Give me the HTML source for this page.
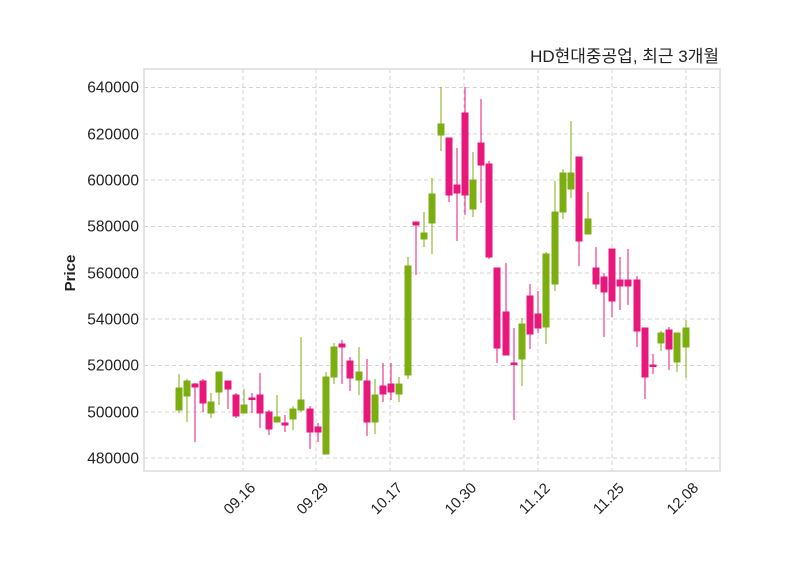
<!DOCTYPE html>
<html><head><meta charset="utf-8"><style>
body{margin:0;background:#fff;}
svg text{font-family:"Liberation Sans","Noto Sans CJK KR",sans-serif;fill:#222;}
</style></head><body>
<svg width="800" height="575" viewBox="0 0 800 575" xmlns="http://www.w3.org/2000/svg">
<rect width="800" height="575" fill="#fff"/>
<g stroke="#d3d3d3" stroke-width="1" stroke-dasharray="4,3">
<line x1="144" x2="720" y1="87.5" y2="87.5"/><line x1="144" x2="720" y1="134" y2="134"/><line x1="144" x2="720" y1="180" y2="180"/><line x1="144" x2="720" y1="226.5" y2="226.5"/><line x1="144" x2="720" y1="273" y2="273"/><line x1="144" x2="720" y1="319" y2="319"/><line x1="144" x2="720" y1="365.5" y2="365.5"/><line x1="144" x2="720" y1="412" y2="412"/><line x1="144" x2="720" y1="458" y2="458"/>
<line y1="69" y2="471" x1="243" x2="243"/><line y1="69" y2="471" x1="316" x2="316"/><line y1="69" y2="471" x1="390" x2="390"/><line y1="69" y2="471" x1="464" x2="464"/><line y1="69" y2="471" x1="538" x2="538"/><line y1="69" y2="471" x1="612" x2="612"/><line y1="69" y2="471" x1="686" x2="686"/>
</g>
<rect x="144" y="69" width="576" height="402" fill="none" stroke="#dcdcdc" stroke-width="1.5"/>
<g font-size="15.5" text-anchor="end">
<text x="139" y="92.5">640000</text><text x="139" y="139.5">620000</text><text x="139" y="185.5">600000</text><text x="139" y="231.5">580000</text><text x="139" y="278.5">560000</text><text x="139" y="324.5">540000</text><text x="139" y="370.5">520000</text><text x="139" y="417.5">500000</text><text x="139" y="463.5">480000</text>
</g>
<g font-size="15" text-anchor="middle">
<text transform="translate(243,502) rotate(-45)">09.16</text>
<text transform="translate(316,502) rotate(-45)">09.29</text>
<text transform="translate(390,502) rotate(-45)">10.17</text>
<text transform="translate(464,502) rotate(-45)">10.30</text>
<text transform="translate(538,502) rotate(-45)">11.12</text>
<text transform="translate(612,502) rotate(-45)">11.25</text>
<text transform="translate(686,502) rotate(-45)">12.08</text>
</g>
<text transform="translate(75,273) rotate(-90)" font-size="15" font-weight="bold" text-anchor="middle">Price</text>
<text x="719" y="62" font-size="17" text-anchor="end">HD현대중공업, 최근 3개월</text>
<g stroke="#7cae12" fill="#7cae12" stroke-width="1">
<line x1="179" x2="179" y1="374" y2="413"/><rect x="176" y="388" width="6" height="22"/>
<line x1="187" x2="187" y1="379" y2="422"/><rect x="184" y="381" width="6" height="15"/>
<line x1="211" x2="211" y1="393" y2="418"/><rect x="208" y="402" width="6" height="11"/>
<line x1="219" x2="219" y1="372" y2="405"/><rect x="216" y="372" width="6" height="20"/>
<line x1="244" x2="244" y1="389" y2="413"/><rect x="241" y="405" width="6" height="8"/>
<line x1="277" x2="277" y1="395" y2="422"/><rect x="274" y="417" width="6" height="5"/>
<line x1="293" x2="293" y1="406" y2="430"/><rect x="290" y="409" width="6" height="10"/>
<line x1="301" x2="301" y1="337" y2="412"/><rect x="298" y="400" width="6" height="10"/>
<line x1="326" x2="326" y1="372" y2="454"/><rect x="323" y="377" width="6" height="77"/>
<line x1="334" x2="334" y1="343" y2="384"/><rect x="331" y="347" width="6" height="30"/>
<line x1="359" x2="359" y1="347" y2="395"/><rect x="356" y="372" width="6" height="8"/>
<line x1="375" x2="375" y1="379" y2="434"/><rect x="372" y="395" width="6" height="27"/>
<line x1="399" x2="399" y1="377" y2="402"/><rect x="396" y="384" width="6" height="10"/>
<line x1="408" x2="408" y1="257" y2="379"/><rect x="405" y="266" width="6" height="109"/>
<line x1="424" x2="424" y1="212" y2="247"/><rect x="421" y="233" width="6" height="6"/>
<line x1="432" x2="432" y1="178" y2="254"/><rect x="429" y="194" width="6" height="29"/>
<line x1="441" x2="441" y1="87" y2="151"/><rect x="438" y="124" width="6" height="11"/>
<line x1="473" x2="473" y1="152" y2="217"/><rect x="470" y="180" width="6" height="29"/>
<line x1="522" x2="522" y1="318" y2="386"/><rect x="519" y="324" width="6" height="35"/>
<line x1="546" x2="546" y1="252" y2="344"/><rect x="543" y="254" width="6" height="73"/>
<line x1="555" x2="555" y1="181" y2="291"/><rect x="552" y="212" width="6" height="72"/>
<line x1="563" x2="563" y1="169" y2="219"/><rect x="560" y="173" width="6" height="39"/>
<line x1="571" x2="571" y1="121" y2="198"/><rect x="568" y="173" width="6" height="16"/>
<line x1="588" x2="588" y1="192" y2="234"/><rect x="585" y="219" width="6" height="15"/>
<line x1="661" x2="661" y1="331" y2="351"/><rect x="658" y="333" width="6" height="10"/>
<line x1="677" x2="677" y1="333" y2="372"/><rect x="674" y="333" width="6" height="29"/>
<line x1="686" x2="686" y1="320" y2="378"/><rect x="683" y="328" width="6" height="19"/>
</g>
<g stroke="#e8177c" fill="#e8177c" stroke-width="1">
<line x1="195" x2="195" y1="383" y2="442"/><rect x="192" y="384" width="6" height="3"/>
<line x1="203" x2="203" y1="379" y2="412"/><rect x="200" y="381" width="6" height="22"/>
<line x1="228" x2="228" y1="381" y2="409"/><rect x="225" y="381" width="6" height="8"/>
<line x1="236" x2="236" y1="393" y2="418"/><rect x="233" y="395" width="6" height="21"/>
<line x1="252" x2="252" y1="393" y2="413"/><rect x="249" y="398" width="6" height="1.5"/>
<line x1="260" x2="260" y1="373" y2="428"/><rect x="257" y="395" width="6" height="18"/>
<line x1="269" x2="269" y1="410" y2="435"/><rect x="266" y="412" width="6" height="17"/>
<line x1="285" x2="285" y1="415" y2="432"/><rect x="282" y="423" width="6" height="2"/>
<line x1="310" x2="310" y1="406" y2="449"/><rect x="307" y="409" width="6" height="23"/>
<line x1="318" x2="318" y1="423" y2="442"/><rect x="315" y="427" width="6" height="5"/>
<line x1="342" x2="342" y1="340" y2="384"/><rect x="339" y="344" width="6" height="3"/>
<line x1="350" x2="350" y1="357" y2="391"/><rect x="347" y="361" width="6" height="17"/>
<line x1="367" x2="367" y1="359" y2="436"/><rect x="364" y="381" width="6" height="41"/>
<line x1="383" x2="383" y1="363" y2="402"/><rect x="380" y="386" width="6" height="8"/>
<line x1="391" x2="391" y1="363" y2="400"/><rect x="388" y="384" width="6" height="8"/>
<line x1="416" x2="416" y1="223" y2="275"/><rect x="413" y="222" width="6" height="3"/>
<line x1="449" x2="449" y1="138" y2="202"/><rect x="446" y="138" width="6" height="57"/>
<line x1="457" x2="457" y1="148" y2="241"/><rect x="454" y="185" width="6" height="8"/>
<line x1="465" x2="465" y1="87" y2="215"/><rect x="462" y="113" width="6" height="82"/>
<line x1="481" x2="481" y1="99" y2="203"/><rect x="478" y="143" width="6" height="22"/>
<line x1="489" x2="489" y1="161" y2="259"/><rect x="486" y="164" width="6" height="93"/>
<line x1="497" x2="497" y1="268" y2="363"/><rect x="494" y="268" width="6" height="80"/>
<line x1="506" x2="506" y1="263" y2="355"/><rect x="503" y="312" width="6" height="43"/>
<line x1="514" x2="514" y1="328" y2="420"/><rect x="511" y="363" width="6" height="1.5"/>
<line x1="530" x2="530" y1="284" y2="349"/><rect x="527" y="296" width="6" height="38"/>
<line x1="538" x2="538" y1="291" y2="333"/><rect x="535" y="314" width="6" height="14"/>
<line x1="579" x2="579" y1="157" y2="266"/><rect x="576" y="157" width="6" height="84"/>
<line x1="596" x2="596" y1="247" y2="289"/><rect x="593" y="268" width="6" height="16"/>
<line x1="604" x2="604" y1="273" y2="337"/><rect x="601" y="277" width="6" height="15"/>
<line x1="612" x2="612" y1="249" y2="317"/><rect x="609" y="249" width="6" height="52"/>
<line x1="620" x2="620" y1="257" y2="310"/><rect x="617" y="280" width="6" height="6"/>
<line x1="628" x2="628" y1="249" y2="305"/><rect x="625" y="280" width="6" height="6"/>
<line x1="637" x2="637" y1="276" y2="347"/><rect x="634" y="280" width="6" height="51"/>
<line x1="645" x2="645" y1="328" y2="399"/><rect x="642" y="328" width="6" height="49"/>
<line x1="653" x2="653" y1="354" y2="374"/><rect x="650" y="365" width="6" height="1.5"/>
<line x1="669" x2="669" y1="327" y2="370"/><rect x="666" y="330" width="6" height="19"/>
</g>
</svg>
</body></html>
